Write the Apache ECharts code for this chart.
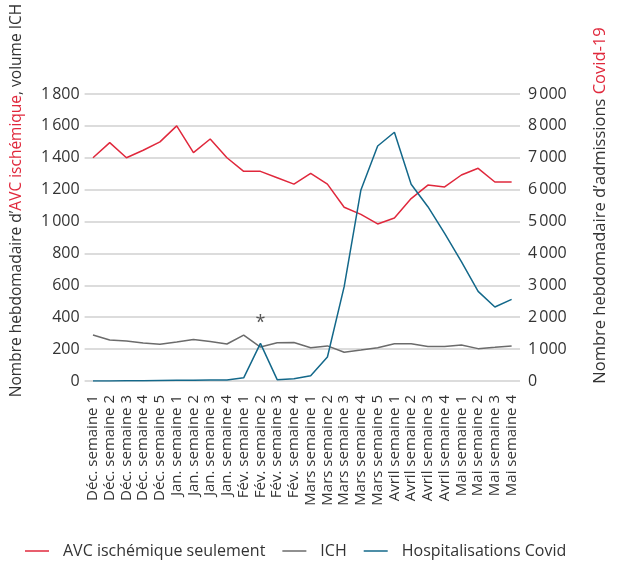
<!DOCTYPE html>
<html>
<head>
<meta charset="utf-8">
<script src="https://cdn.jsdelivr.net/npm/echarts@6/dist/echarts.min.js"></script>
<style>html,body{margin:0;padding:0;background:#fff}#c{width:617px;height:561px}</style>
</head>
<body>
<div id="c"></div>
<script>
const categories = ["Déc. semaine 1","Déc. semaine 2","Déc. semaine 3","Déc. semaine 4","Déc. semaine 5","Jan. semaine 1","Jan. semaine 2","Jan. semaine 3","Jan. semaine 4","Fév. semaine 1","Fév. semaine 2","Fév. semaine 3","Fév. semaine 4","Mars semaine 1","Mars semaine 2","Mars semaine 3","Mars semaine 4","Mars semaine 5","Avril semaine 1","Avril semaine 2","Avril semaine 3","Avril semaine 4","Mai semaine 1","Mai semaine 2","Mai semaine 3","Mai semaine 4"];
const avcIschemique = [1400,1495,1400,1447,1500,1600,1432,1518,1400,1315,1315,1275,1235,1302,1235,1090,1045,985,1022,1144,1229,1217,1292,1334,1248,1248];
const ich = [288,257,251,238,230,245,261,247,232,288,213,240,242,209,220,180,194,209,234,234,217,216,226,203,211,220];
const covid = [0,0,5,10,15,20,25,30,35,100,1180,42,70,167,753,2958,5990,7370,7800,6168,5466,4630,3742,2812,2320,2561];
const leftTicks = {min:0, max:1800, interval:200};
const rightTicks = {min:0, max:9000, interval:1000};
const seriesNames = ["AVC ischémique seulement","ICH","Hospitalisations Covid"];

const fmt = v => String(v).replace(/\B(?=(\d{3})+(?!\d))/g, '\u202f');
const RED = '#e0283c', GRAY = '#6b6b6b', BLUE = '#13688a', TXT = '#333';
const FONT = '"Open Sans", "Noto Sans", sans-serif';

const chart = echarts.init(document.getElementById('c'));
chart.setOption({
  animation: false,
  textStyle: {fontFamily: FONT, color: TXT},
  grid: {left: 84.6, right: 81.6, top: 94, bottom: 180, containLabel: false},
  legend: {
    bottom: -3, left: 20, itemWidth: 24, itemHeight: 1.5, itemGap: 17, icon: 'rect',
    textStyle: {fontSize: 16, color: TXT, fontFamily: FONT, padding: [0, 0, 0, 9]},
    data: seriesNames
  },
  xAxis: {
    type: 'category', data: categories, boundaryGap: true,
    axisLine: {show: false}, axisTick: {show: false},
    axisLabel: {rotate: 90, interval: 0, fontSize: 15, color: TXT, margin: 14}
  },
  yAxis: [
    {
      type: 'value', min: leftTicks.min, max: leftTicks.max, interval: leftTicks.interval,
      axisLine: {show: false}, axisTick: {show: false},
      splitLine: {lineStyle: {color: '#d0d0d0', width: 1.5}},
      axisLabel: {formatter: fmt, fontSize: 16, color: TXT, margin: 5},
      name: '{a|Nombre hebdomadaire d’}{b|AVC ischémique}{a|, volume ICH}',
      nameLocation: 'middle', nameGap: 60, nameRotate: 90,
      nameTextStyle: {
        padding: [0, 0, 0, 74],
        rich: {
          a: {fontSize: 15.5, color: TXT, fontFamily: FONT},
          b: {fontSize: 15.5, color: RED, fontFamily: FONT}
        }
      }
    },
    {
      type: 'value', min: rightTicks.min, max: rightTicks.max, interval: rightTicks.interval,
      position: 'right',
      axisLine: {show: false}, axisTick: {show: false},
      splitLine: {show: false},
      axisLabel: {formatter: fmt, fontSize: 16, color: TXT, margin: 8},
      name: '{a|Nombre hebdomadaire d’admissions }{b|Covid-19}',
      nameLocation: 'middle', nameGap: 72, nameRotate: 90,
      nameTextStyle: {
        padding: [0, 0, 0, 64],
        rich: {
          a: {fontSize: 16.5, color: TXT, fontFamily: FONT},
          b: {fontSize: 16.5, color: RED, fontFamily: FONT}
        }
      }
    }
  ],
  series: [
    {name: seriesNames[0], type: 'line', yAxisIndex: 0, data: avcIschemique, symbol: 'none',
     lineStyle: {color: RED, width: 1.5}, itemStyle: {color: RED}},
    {name: seriesNames[1], type: 'line', yAxisIndex: 0, data: ich, symbol: 'none',
     lineStyle: {color: GRAY, width: 1.5}, itemStyle: {color: GRAY},
     markPoint: {
       symbol: 'circle', symbolSize: 0,
       label: {show: true, formatter: '*', fontSize: 18, color: '#555', offset: [0, 4]},
       data: [{coord: [10, 390]}]
     }},
    {name: seriesNames[2], type: 'line', yAxisIndex: 1, data: covid, symbol: 'none',
     lineStyle: {color: BLUE, width: 1.5}, itemStyle: {color: BLUE}}
  ]
});
</script>
</body>
</html>
